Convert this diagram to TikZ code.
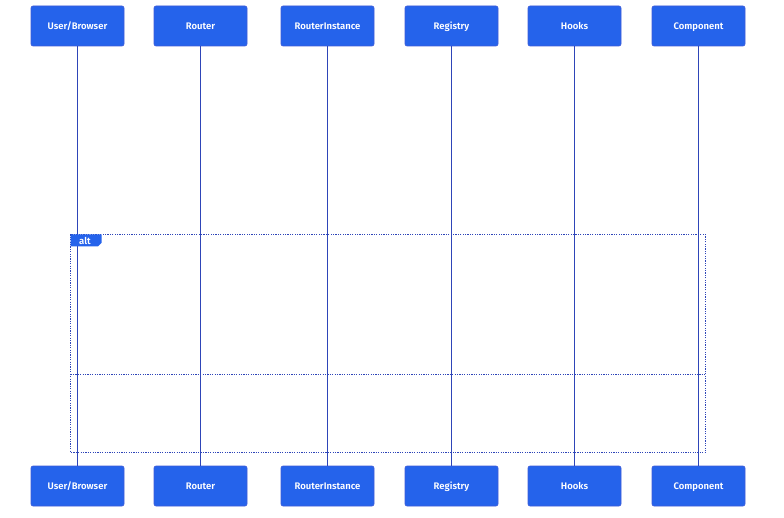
\documentclass[tikz,border=0pt]{standalone}
\usepackage{fontspec}
\setmainfont{Fira Sans}
\newfontfamily\actorfont{Fira Sans SemiBold}
\definecolor{actorblue}{HTML}{2563EB}
\definecolor{actorline}{HTML}{3E5BD8}
\definecolor{lifeline}{HTML}{2E45B8}
\begin{document}
\begin{tikzpicture}[x=1pt,y=-1pt,
  actor/.style={draw=actorline,line width=0.6pt,fill=actorblue,rounded corners=2pt,
    minimum width=93pt,minimum height=40pt,inner sep=0pt,text=white,
    text height=9.4pt,text depth=2pt,
    font=\actorfont\fontsize{9.5}{11}\selectfont},
  life/.style={draw=lifeline,line width=1.1pt},
  frameline/.style={draw=lifeline,line width=0.9pt,dash pattern=on 1.2pt off 1.2pt}]
\useasboundingbox (0,0) rectangle (784,518);
% participants, top and bottom
\foreach \n/\x/\t in {usr/77.5/User\slash Browser,rtr/200.5/Router,inst/327.5/RouterInstance,
                       reg/451.5/Registry,hks/574.5/Hooks,cmp/698.5/Component}{
  \node[actor] (\n-top) at (\x,26) {\t};
  \node[actor] (\n-bot) at (\x,486) {\t};
}
% lifelines
\foreach \n in {usr,rtr,inst,reg,hks,cmp}{
  \draw[life] (\n-top.south) -- (\n-bot.north);
}
% alt frame with its divider
\draw[frameline] (70.5,234.5) rectangle (705.5,452.5);
\draw[frameline] (70.5,374) -- (705.5,374);
% alt label tab
\fill[actorblue] (70.5,234.5) -- (101.5,234.5) -- (101.5,243) -- (98,246.5) -- (70.5,246.5) -- cycle;
\node[text=white,font=\actorfont\fontsize{9.5}{10}\selectfont,inner sep=0pt] (alt) at (85,241) {alt};
\end{tikzpicture}
\end{document}
